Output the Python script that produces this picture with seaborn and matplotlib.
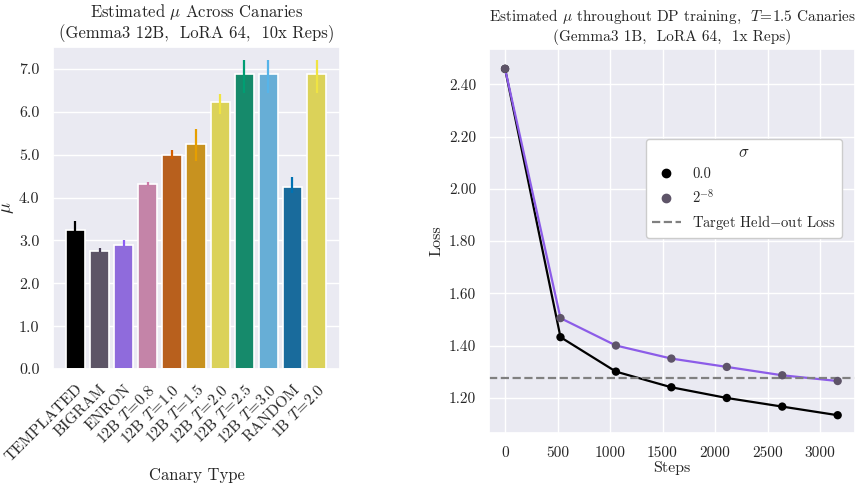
import numpy as np
import pandas as pd
import matplotlib
matplotlib.use("Agg")
import matplotlib.pyplot as plt
from matplotlib.lines import Line2D
import seaborn as sns

# left panel: estimated mu per canary type
canaries = ["TEMPLATED", "BIGRAM", "ENRON", "12B $T\\!=\\!0.8$", "12B $T\\!=\\!1.0$",
            "12B $T\\!=\\!1.5$", "12B $T\\!=\\!2.0$", "12B $T\\!=\\!2.5$", "12B $T\\!=\\!3.0$",
            "RANDOM", "1B $T\\!=\\!2.0$"]
mu = [3.25, 2.75, 2.90, 4.32, 5.00, 5.25, 6.22, 6.88, 6.88, 4.25, 6.88]
mu_lo = [3.20, 2.72, 2.86, 4.28, 4.90, 4.85, 5.95, 6.45, 6.45, 4.10, 6.45]
mu_hi = [3.45, 2.82, 3.02, 4.37, 5.12, 5.60, 6.42, 7.20, 7.20, 4.47, 7.20]
bar_colors = ["#000000", "#5d5566", "#8f6bdc", "#c484a8", "#b8601d", "#c8921f",
              "#dbd259", "#168a6b", "#67aed6", "#196b9c", "#dbd259"]
err_colors = ["#000000", "#4a4058", "#8c5cf5", "#cc79a7", "#d55e00", "#e69f00",
              "#f0e442", "#009e73", "#56b4e9", "#0072b2", "#f0e442"]

# right panel: loss over DP training steps
steps = [0, 528, 1056, 1584, 2112, 2640, 3168]
loss_sigma0 = [2.46, 1.432, 1.300, 1.240, 1.199, 1.166, 1.133]
loss_sigma8 = [2.46, 1.505, 1.400, 1.350, 1.318, 1.286, 1.264]
target_loss = 1.275

sns.set_theme(style="darkgrid")
plt.rcParams["font.family"] = ["cmr10", "DejaVu Serif"]
plt.rcParams["mathtext.fontset"] = "cm"
plt.rcParams["axes.formatter.use_mathtext"] = True
plt.rcParams["axes.unicode_minus"] = False

fig = plt.figure(figsize=(8.61, 4.84), dpi=100)
ax1 = fig.add_axes([53.3 / 861, 1 - 369 / 484, 286.7 / 861, 322.3 / 484])
ax2 = fig.add_axes([489.3 / 861, 1 - 432.7 / 484, 365.7 / 861, 383.7 / 484])

df_bar = pd.DataFrame({"canary": canaries, "mu": mu})
sns.barplot(data=df_bar, x="canary", y="mu", hue="canary", palette=bar_colors,
            saturation=1, width=0.8, edgecolor="white", linewidth=1.2,
            legend=False, ax=ax1)
for i in range(len(canaries)):
    ax1.vlines(i, mu_lo[i], mu_hi[i], color=err_colors[i], lw=1.6, zorder=3)

ax1.set_xlim(-0.92, 10.97)
ax1.set_ylim(0, 7.52)
ax1.set_yticks(np.arange(0, 8, 1.0))
ax1.set_yticklabels([f"{v:.1f}" for v in np.arange(0, 8, 1.0)], fontsize=11.5)
ax1.tick_params(axis="y", pad=4)
ax1.set_xticks(range(len(canaries)))
ax1.set_xticklabels(canaries, rotation=45, ha="right", rotation_mode="anchor", fontsize=11.3)
ax1.set_xlabel("Canary Type", fontsize=12, labelpad=2)
ax1.set_ylabel("$\\mu$", fontsize=13, labelpad=2)
ax1.set_title("Estimated $\\mu$ Across Canaries\n(Gemma3 12B,  LoRA 64,  10x Reps)", fontsize=12)

df_loss = pd.DataFrame({
    "step": steps * 2,
    "loss": loss_sigma0 + loss_sigma8,
    "sigma": ["0.0"] * len(steps) + ["2^-8"] * len(steps),
})
sns.lineplot(data=df_loss, x="step", y="loss", hue="sigma",
             palette=["#000000", "#8c5ce8"], lw=1.6, legend=False, ax=ax2)
sns.scatterplot(data=df_loss, x="step", y="loss", hue="sigma",
                palette=["#000000", "#5e5468"], s=36, edgecolor="none",
                zorder=3, legend=False, ax=ax2)
ax2.axhline(target_loss, color="gray", ls="--", lw=1.6)

ax2.set_xlim(-150, 3333)
ax2.set_ylim(1.066, 2.536)
ax2.set_xticks(range(0, 3500, 500))
ax2.set_xticklabels([str(v) for v in range(0, 3500, 500)], fontsize=11)
yt = [1.2, 1.4, 1.6, 1.8, 2.0, 2.2, 2.4]
ax2.set_yticks(yt)
ax2.set_yticklabels([f"{v:.2f}" for v in yt], fontsize=11)
ax2.set_xlabel("Steps", fontsize=11.5, labelpad=1)
ax2.set_ylabel("Loss", fontsize=11.5)
ax2.set_title("Estimated $\\mu$ throughout DP training,  $T\\!=\\!1.5$ Canaries\n(Gemma3 1B,  LoRA 64,  1x Reps)",
              fontsize=11)

handles = [
    Line2D([], [], ls="none", marker="o", color="#000000", ms=6),
    Line2D([], [], ls="none", marker="o", color="#5e5468", ms=6),
    Line2D([], [], ls="--", color="gray", lw=1.6),
]
ax2.legend(handles, ["0.0", "$2^{-8}$", "Target Held$-$out Loss"], title="$\\sigma$",
           loc="upper right", bbox_to_anchor=(0.985, 0.785), fontsize=10.5,
           title_fontsize=12, facecolor="white", framealpha=1)

fig.savefig("out.png", dpi=100)
